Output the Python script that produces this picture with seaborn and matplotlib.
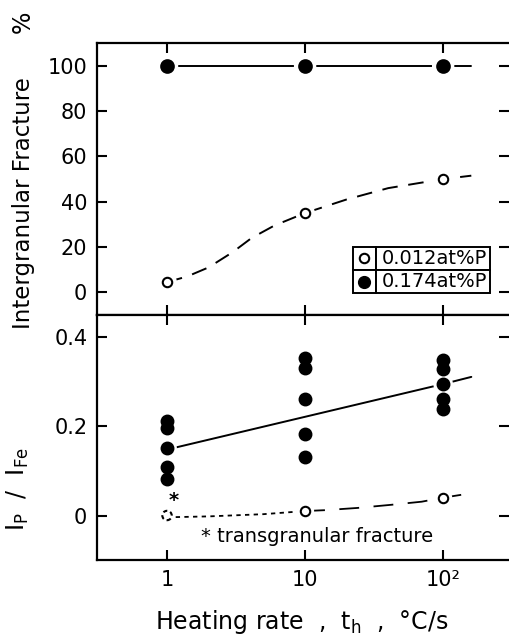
import matplotlib
matplotlib.use("Agg")
import matplotlib.pyplot as plt
import seaborn as sns

# Heating rates (°C/s)
rates = [1, 10, 100]

# Intergranular fracture (%)
igf_low_p = [4.5, 35, 50]        # 0.012at%P
igf_high_p = [100, 100, 100]     # 0.174at%P

# Hand-drawn guide curves through the fracture data
igf_low_guide_x = [1, 1.4, 2, 3, 4.1, 6, 10, 20, 40, 100, 160]
igf_low_guide_y = [4.5, 7, 11, 17.8, 24, 29.5, 35, 41, 46, 50, 51.5]
igf_high_guide_x = [1, 10, 100]
igf_high_guide_y = [100, 100, 100]
igf_high_ext_x = [100, 160]
igf_high_ext_y = [100, 100]

# Auger peak ratio IP / IFe
ratio_high_x = [1, 1, 1, 1, 1, 10, 10, 10, 10, 10, 100, 100, 100, 100, 100]
ratio_high_y = [0.212, 0.197, 0.151, 0.108, 0.082,
                0.353, 0.330, 0.262, 0.182, 0.132,
                0.350, 0.329, 0.295, 0.262, 0.240]
ratio_low_x = [10, 100]
ratio_low_y = [0.010, 0.040]
ratio_trans_x = [1]              # transgranular fracture
ratio_trans_y = [0.0]

ratio_high_fit_x = [1, 100]
ratio_high_fit_y = [0.148, 0.295]
ratio_high_ext_x = [100, 160]
ratio_high_ext_y = [0.295, 0.311]
ratio_low_guide1_x = [1, 2, 5, 10]
ratio_low_guide1_y = [-0.004, -0.002, 0.003, 0.010]
ratio_low_guide2_x = [10, 14, 24, 42, 70, 100, 160]
ratio_low_guide2_y = [0.010, 0.012, 0.017, 0.024, 0.031, 0.040, 0.050]

x_ticks = [1, 10, 100]
x_ticklabels = ["1", "10", "10²"]
igf_ticks = [0, 20, 40, 60, 80, 100]
ratio_ticks = [0, 0.2, 0.4]
ratio_ticklabels = ["0", "0.2", "0.4"]
legend_labels = ["0.012at%P", "0.174at%P"]

K = "black"
sns.set_theme(style="ticks")
plt.rcParams["font.family"] = ["DejaVu Sans"]
plt.rcParams.update({
    "axes.linewidth": 1.6,
    "axes.edgecolor": K,
    "text.color": K,
    "axes.labelcolor": K,
    "xtick.color": K,
    "ytick.color": K,
})

fig = plt.figure(figsize=(5.09, 6.35), dpi=100)
ax1 = fig.add_axes([0.1906, 0.504, 0.8094, 0.428])
ax2 = fig.add_axes([0.1906, 0.118, 0.8094, 0.386])

FILLED = 72
OPEN = 46


def line(ax, x, y, ls, lw=1.4):
    sns.lineplot(x=x, y=y, ax=ax, color=K, linestyle=ls, linewidth=lw,
                 estimator=None, sort=False, zorder=2)


def points(ax, x, y, filled, size, ls="solid", halo=240):
    sns.scatterplot(x=x, y=y, ax=ax, s=halo, color="white",
                    edgecolor="none", zorder=3)
    sns.scatterplot(x=x, y=y, ax=ax, s=size,
                    color=K if filled else "white",
                    edgecolor=K, linewidth=1.5, linestyle=ls, zorder=4)


# --- upper panel: intergranular fracture ---
line(ax1, igf_high_guide_x, igf_high_guide_y, "solid")
line(ax1, igf_high_ext_x, igf_high_ext_y, "solid")
line(ax1, igf_low_guide_x, igf_low_guide_y, (0, (8, 5.5)))
points(ax1, rates, igf_high_p, True, FILLED + 10, halo=260)
points(ax1, rates, igf_low_p, False, OPEN, halo=200)

ax1.set_ylim(-10, 110)
ax1.set_yticks(igf_ticks)

# legend box
tbl = ax1.table(cellText=[["", legend_labels[0]], ["", legend_labels[1]]],
                bbox=[0.621, 0.081, 0.333, 0.169],
                colWidths=[0.168, 0.832], cellLoc="left")
tbl.auto_set_font_size(False)
for (r, c), cell in tbl.get_celld().items():
    cell.set_linewidth(1.4)
    cell.set_edgecolor(K)
    cell.set_facecolor("white")
    cell.get_text().set_fontsize(14)
    cell.get_text().set_color(K)
    cell.PAD = 0.05
tbl.set_zorder(5)
ax1.scatter([0.649], [0.208], s=OPEN, facecolor="white", edgecolor=K,
            linewidth=1.5, transform=ax1.transAxes, zorder=6, clip_on=False)
ax1.scatter([0.649], [0.123], s=FILLED, facecolor=K, edgecolor=K,
            transform=ax1.transAxes, zorder=6, clip_on=False)

# --- lower panel: IP / IFe ---
line(ax2, ratio_high_fit_x, ratio_high_fit_y, "solid")
line(ax2, ratio_high_ext_x, ratio_high_ext_y, "solid")
line(ax2, ratio_low_guide1_x, ratio_low_guide1_y, (0, (2.4, 2.4)), lw=1.3)
line(ax2, ratio_low_guide2_x, ratio_low_guide2_y, (0, (11, 8)), lw=1.3)
points(ax2, ratio_high_x, ratio_high_y, True, FILLED, halo=200)
points(ax2, ratio_low_x, ratio_low_y, False, OPEN, halo=170)
points(ax2, ratio_trans_x, ratio_trans_y, False, OPEN, ls=(0, (2, 1.5)), halo=120)

ax2.text(1.12, 0.034, "*", fontsize=14, fontweight="bold", ha="center", va="center")
ax2.text(1.75, -0.047, "* transgranular fracture", fontsize=14,
         ha="left", va="center")

ax2.set_ylim(-0.1, 0.45)
ax2.set_yticks(ratio_ticks)
ax2.set_yticklabels(ratio_ticklabels)

for ax in (ax1, ax2):
    ax.set_xscale("log")
    ax.set_xlim(0.311, 300)
    ax.set_xticks(x_ticks)
    ax.xaxis.set_minor_locator(matplotlib.ticker.NullLocator())
    ax.set_xlabel("")
    ax.set_ylabel("")
    ax.spines["right"].set_visible(False)
    ax.tick_params(axis="both", which="major", direction="in", length=7,
                   width=1.5, labelsize=15, colors=K, pad=7,
                   top=True, right=True)
    ax.set_facecolor("white")

ax1.set_xticklabels([])
ax2.set_xticklabels(x_ticklabels)
ax1.set_yticklabels([str(v) for v in igf_ticks])

fig.text(0.047, 1 - 203 / 635, "Intergranular Fracture", rotation=90,
         ha="center", va="center", fontsize=16.5)
fig.text(0.045, 1 - 22 / 635, "%", rotation=90, ha="center", va="center",
         fontsize=17)
fig.text(0.035, 1 - 489 / 635, r"I$_\mathrm{P}$  /  I$_\mathrm{Fe}$",
         rotation=90, ha="center", va="center", fontsize=17)
fig.text(0.592, 1 - 622 / 635, r"Heating rate  ,  t$_\mathrm{h}$  ,  °C/s",
         ha="center", va="center", fontsize=17)

fig.savefig("out.png", dpi=100, facecolor="white")
